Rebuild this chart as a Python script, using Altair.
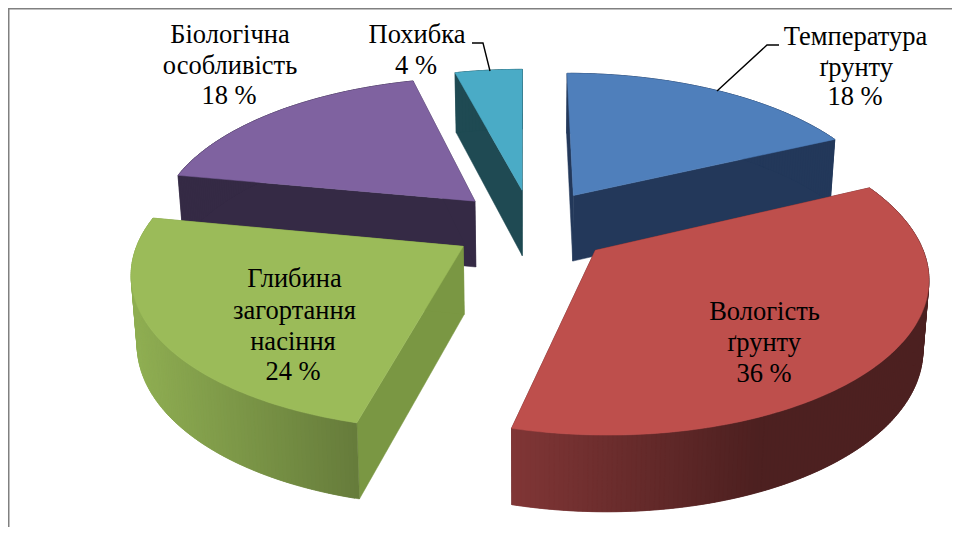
import math
import altair as alt
import pandas as pd

# --- chart values ---
names = ["Температура ґрунту", "Вологість ґрунту", "Глибина загортання насіння",
         "Біологічна особливість", "Похибка"]
shares = [18, 36, 24, 18, 4]
top_colors = ["#4F7FBB", "#BE4F4C", "#9BBB59", "#7F62A0", "#4AABC6"]
wall_near = ["#23385A", "#813636", "#8FAE52", "#352A45", "#1F4A53"]
wall_far = ["#23385A", "#4D2020", "#667C3B", "#352A45", "#1F4A53"]
cut_colors = ["#23385A", "#4D2020", "#7A9743", "#352A45", "#1F4A53"]
paint_order = [0, 3, 4, 2, 1]

label_lines = [
    ["Температура", "ґрунту", "18 %"],
    ["Вологість", "ґрунту", "36 %"],
    ["Глибина", "загортання", "насіння", "24 %"],
    ["Біологічна", "особливість", "18 %"],
    ["Похибка", "4 %"],
]
label_x = [[855.5, 856, 855], [764.5, 764, 764], [294.5, 294.5, 293, 293], [230, 230, 229], [417, 416]]
label_y = [[37, 68, 97], [312, 343, 374], [279, 311, 342, 372], [35, 66, 96], [35, 66]]
leaders = [[(779, 45), (767, 45), (717, 91)], [(472, 43), (483, 43), (490, 71)]]

# --- view of the pie (tilted, with perspective) ---
CX, CY, A, B, K = 532.0, 226.0, 320.0, 149.0, 0.15
SKEW = 1.0
EXPLODE = 0.25


def project(px, py):
    s = 1.0 / (1.0 + K * py)
    return CX - SKEW * py + A * px * s, CY - B * py * s, s


def top_pt(px, py):
    x, y, _ = project(px, py)
    return x, y


def bottom_pt(px, py):
    x, y, s = project(px, py)
    return CX + (x - CX) * 0.985, y + 21 + 46 * s


def mix(c1, c2, t):
    t = max(0.0, min(1.0, t))
    a = [int(c1[i:i + 2], 16) for i in (1, 3, 5)]
    b = [int(c2[i:i + 2], 16) for i in (1, 3, 5)]
    return "#%02x%02x%02x" % tuple(round(u + (v - u) * t) for u, v in zip(a, b))


rows = []
pid = 0


def add_poly(points, color):
    global pid
    pid += 1
    for i, (x, y) in enumerate(list(points) + [points[0]]):
        rows.append({"pid": pid, "seq": i, "x": x, "y": y, "color": color})


total = sum(shares)
angles = [0.0]
for v in shares:
    angles.append(angles[-1] + v / total * 2 * math.pi)

GRAD_RANGE = {1: (513, 760), 2: (135, 358)}

for idx in paint_order:
    a0, a1 = angles[idx], angles[idx + 1]
    mid = (a0 + a1) / 2
    ox, oy = EXPLODE * math.sin(mid), EXPLODE * math.cos(mid)
    steps = max(10, int(shares[idx] * 5))
    rim = [(ox + math.sin(a0 + (a1 - a0) * j / steps), oy + math.cos(a0 + (a1 - a0) * j / steps))
           for j in range(steps + 1)]
    lo, hi = GRAD_RANGE.get(idx, (0, 1))
    # the two cut faces
    for corner in (rim[0], rim[-1]):
        add_poly([top_pt(ox, oy), top_pt(*corner), bottom_pt(*corner), bottom_pt(ox, oy)], cut_colors[idx])
    # outer wall, in narrow overlapping strips so that the shade can change along it
    for j in range(steps):
        p, q = rim[j], rim[min(j + 2, steps)]
        t1, t2 = top_pt(*p), top_pt(*q)
        b2, b1 = bottom_pt(*q), bottom_pt(*p)
        t = (t1[0] - lo) / (hi - lo)
        add_poly([t1, t2, b2, b1], mix(wall_near[idx], wall_far[idx], t))
    # top face
    add_poly([top_pt(ox, oy)] + [top_pt(*p) for p in rim], top_colors[idx])

x_enc = alt.X("x:Q", scale=alt.Scale(domain=[8, 952], nice=False, zero=False), axis=None)
y_enc = alt.Y("y:Q", scale=alt.Scale(domain=[527, 8], nice=False, zero=False), axis=None)

pie = alt.Chart(pd.DataFrame(rows)).mark_line(strokeWidth=0.5, interpolate="linear").encode(
    x=x_enc, y=y_enc, order="seq:Q", detail="pid:N",
    fill=alt.Fill("color:N", scale=None, legend=None),
    stroke=alt.Stroke("color:N", scale=None, legend=None),
)

frame = pd.DataFrame({"seq": [0, 1, 2], "x": [8.75, 8.75, 952], "y": [527, 8.75, 8.75]})
frame_layer = alt.Chart(frame).mark_line(color="#808080", strokeWidth=1.5).encode(
    x=x_enc, y=y_enc, order="seq:Q")

lead_rows = [{"pid": i, "seq": j, "x": x, "y": y}
             for i, line in enumerate(leaders) for j, (x, y) in enumerate(line)]
lead_layer = alt.Chart(pd.DataFrame(lead_rows)).mark_line(color="#000000", strokeWidth=1.4).encode(
    x=x_enc, y=y_enc, order="seq:Q", detail="pid:N")

text_rows = []
for lines, xs, ys in zip(label_lines, label_x, label_y):
    for t, x, y in zip(lines, xs, ys):
        text_rows.append({"t": t, "x": x, "y": y})
text_layer = alt.Chart(pd.DataFrame(text_rows)).mark_text(
    font="Liberation Serif", fontSize=26.5, color="#000000", align="center", baseline="middle"
).encode(x=x_enc, y=y_enc, text="t:N")

chart = alt.layer(frame_layer, pie, lead_layer, text_layer).properties(
    width=944, height=519, padding=0, background="#FFFFFF",
    autosize=alt.AutoSizeParams(type="none"),
).configure_view(stroke=None)

chart.save("out.html", embed_options={"renderer": "svg", "actions": False})
